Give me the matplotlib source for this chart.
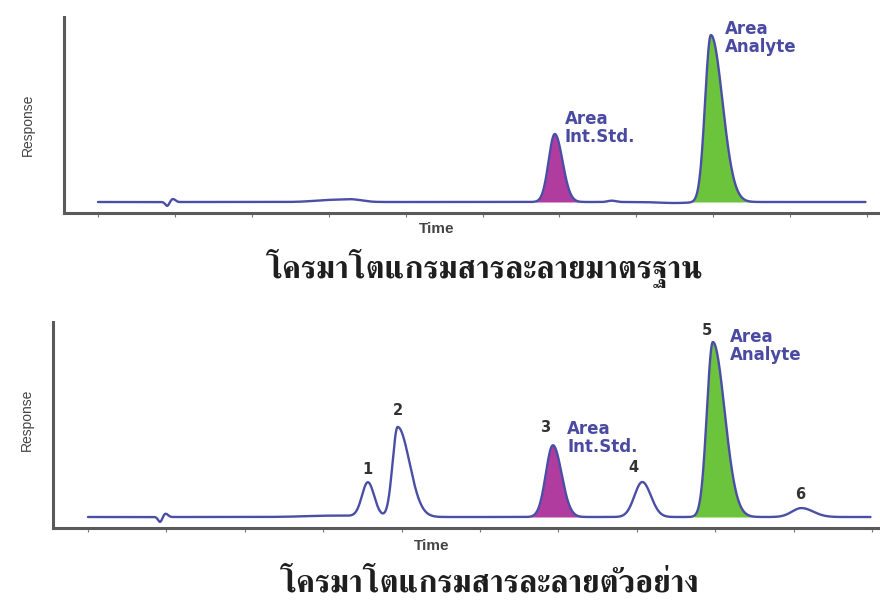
import numpy as np
import matplotlib
matplotlib.use("Agg")
import matplotlib.pyplot as plt

# ---- peak tables (retention time, height, left/right width) ----
std_times   = [0.90, 0.975, 3.05, 3.32, 5.94, 6.68, 7.50, 7.97]
std_heights = [-2.4, 1.8, 1.3, 1.0, 40.7, 0.8, -0.6, 100.0]
std_sig_l   = [0.025, 0.03, 0.22, 0.10, 0.08, 0.05, 0.20, 0.075]
std_sig_r   = [0.025, 0.03, 0.22, 0.12, 0.10, 0.05, 0.20, 0.15]

smp_times   = [0.92, 0.99, 3.15, 3.57, 3.95, 5.93, 7.07, 7.97, 9.10]
smp_heights = [-2.9, 1.9, 0.8, 19.5, 51.4, 41.0, 20.0, 100.0, 5.1]
smp_sig_l   = [0.025, 0.03, 0.35, 0.075, 0.065, 0.09, 0.10, 0.076, 0.12]
smp_sig_r   = [0.025, 0.03, 0.35, 0.08, 0.15, 0.11, 0.11, 0.15, 0.15]

tick_times = list(range(0, 11))

# shaded peaks: (index in table, fill colour)
std_filled = [(4, "#b13c9f"), (7, "#6cc43c")]
smp_filled = [(5, "#b13c9f"), (7, "#6cc43c")]

smp_numbers = ["1", "2", "3", "4", "5", "6"]
smp_number_pos = [(3.56, 22.9), (3.95, 56.6), (5.83, 46.9), (6.96, 24.0), (7.90, 102.3), (9.09, 8.6)]

caption_top = "โครมาโตแกรมสารละลายมาตรฐาน"
caption_bottom = "โครมาโตแกรมสารละลายตัวอย่าง"

LINE = "#4a4ea6"
AXIS = "#5a5a5a"
LABEL = "#4a4aa2"
W, H = 880, 600


def trace(t, times, heights, sl, sr):
    y = np.zeros_like(t)
    for t0, h, a, b in zip(times, heights, sl, sr):
        s = np.where(t < t0, a, b)
        y += h * np.exp(-0.5 * ((t - t0) / s) ** 2)
    return y


def fx(px):
    return px / W


def fy(py):
    return 1 - py / H


fig = plt.figure(figsize=(W / 100, H / 100), dpi=100)
fig.patch.set_facecolor("white")


def panel(rect, xlim, ylim, times, heights, sl, sr, filled):
    ax = fig.add_axes(rect)
    t = np.linspace(0.0, 9.98, 4000)
    y = trace(t, times, heights, sl, sr)
    for idx, col in filled:
        t0 = times[idx]
        m = (t >= t0 - 3.2 * sl[idx]) & (t <= t0 + 4.0 * sr[idx])
        ax.fill_between(t[m], 0, y[m], color=col, lw=0)
    ax.plot(t, y, color=LINE, lw=1.7, solid_capstyle="round")
    ax.set_xlim(*xlim)
    ax.set_ylim(*ylim)
    for s in ("top", "right"):
        ax.spines[s].set_visible(False)
    for s in ("left", "bottom"):
        ax.spines[s].set_color(AXIS)
        ax.spines[s].set_linewidth(2.2)
    ax.set_xticks(tick_times)
    ax.set_xticklabels([])
    ax.set_yticks([])
    ax.tick_params(axis="x", direction="out", length=3, width=0.8, colors="#777777")
    ax.patch.set_alpha(0)
    return ax


# standard solution
ax1 = panel([fx(64), fy(213), fx(880 - 64), (213 - 17) / H],
            ((64 - 98) / 76.9, (880 - 98) / 76.9), (-11 / 1.67, 185 / 1.67),
            std_times, std_heights, std_sig_l, std_sig_r, std_filled)
# sample solution
ax2 = panel([fx(53), fy(528), fx(880 - 53), (528 - 322) / H],
            ((53 - 88) / 78.4, (880 - 88) / 78.4), (-11 / 1.75, 195 / 1.75),
            smp_times, smp_heights, smp_sig_l, smp_sig_r, smp_filled)

lab_kw = dict(color=LABEL, fontsize=12, fontweight="bold", family="DejaVu Sans",
              ha="left", va="top", linespacing=1.0)
ax1.text(6.07, 55.1, "Area\nInt.Std.", **lab_kw)
ax1.text(8.15, 109.0, "Area\nAnalyte", **lab_kw)
ax2.text(6.11, 55.4, "Area\nInt.Std.", **lab_kw)
ax2.text(8.19, 108.0, "Area\nAnalyte", **lab_kw)

for s, (x, y) in zip(smp_numbers, smp_number_pos):
    ax2.text(x, y, s, color="#333333", fontsize=10.5, fontweight="bold",
             family="DejaVu Sans", ha="center", va="bottom")

ax_kw = dict(color="#444444", family=["Liberation Sans", "DejaVu Sans"])
fig.text(fx(28), fy(125), "Response", rotation=90, ha="center", va="center", fontsize=10, **ax_kw)
fig.text(fx(27), fy(420), "Response", rotation=90, ha="center", va="center", fontsize=10, **ax_kw)
fig.text(fx(437), fy(229), "Time", ha="center", va="center", fontsize=11, fontweight="bold", **ax_kw)
fig.text(fx(432), fy(546), "Time", ha="center", va="center", fontsize=11, fontweight="bold", **ax_kw)

cap_kw = dict(color="#1e1e1e", family=["FreeSerif", "DejaVu Sans"], fontweight="bold",
              fontsize=23, ha="center", va="center")
fig.text(fx(485), fy(268), caption_top, **cap_kw)
fig.text(fx(490), fy(583), caption_bottom, **cap_kw)

fig.savefig("out.png", dpi=100, facecolor="white")
